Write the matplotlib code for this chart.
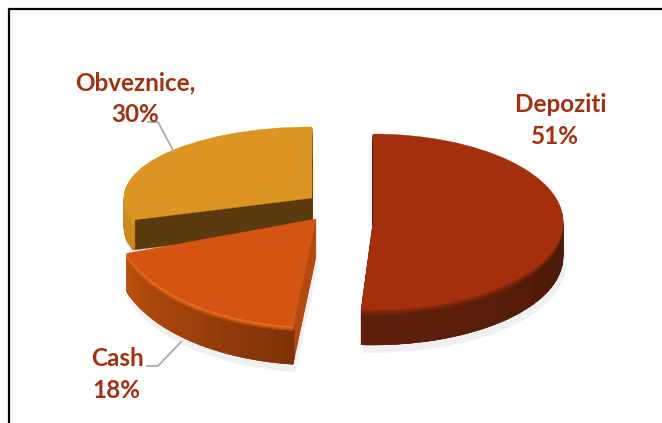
import matplotlib
matplotlib.use('Agg')
import matplotlib.pyplot as plt
import numpy as np

W, H = 662, 423
labels = ['Depoziti', 'Cash', 'Obveznice']
shares = [51, 18, 30]
label_lines = ['Depoziti', '51%', 'Cash', '18%', 'Obveznice,', '30%']

# top face colour, wall colour at start/end of the slice, colour of the cut side
face_colors = ['#a42f0c', '#d45511', '#dc9522']
wall_start = ['#3c1204', '#7f3208', '#c98a1e']
wall_end = ['#5e200b', '#bb4f0e', '#eda321']
cut_colors = ['#3c1204', '#b34a10', '#5b3b0d']
rim_colors = ['#8a2a0c', '#f0701f', '#dc9522']


def mix(a, b, t):
    a, b = np.array(matplotlib.colors.to_rgb(a)), np.array(matplotlib.colors.to_rgb(b))
    return tuple(a + (b - a) * t)


def pie_slice(ax, parts, start, center, radius, colors, width=None):
    # one slice only, the rest of the circle stays invisible
    rest = 100 - sum(parts)
    props = {'linewidth': 0.3}
    if width:
        props['width'] = width
    wedges, _ = ax.pie(list(parts) + [rest], startangle=start, counterclock=False, center=center,
                       radius=radius, colors=list(colors) + ['none'], wedgeprops=props)
    for w, c in zip(wedges, colors):
        w.set_edgecolor(c)
    wedges[-1].set_edgecolor('none')


def draw_slice(i, first, turn, cx, cy, rx, squash, depth, ring):
    ax = fig.add_axes([0, 0, 1, 1])
    ax.patch.set_alpha(0)
    value = shares[i]
    start = 90 - 3.6 * first + turn
    to_y = lambda py: (H - py) / squash
    # soft shadow
    for d in [depth + 7, depth + 5, depth + 3]:
        pie_slice(ax, [value], start, (cx + 2, to_y(cy + d)), rx + 1, ['#f0f0f0'])
    # cut side
    for d in range(depth, 0, -1):
        pie_slice(ax, [value], start, (cx, to_y(cy + d)), rx, [cut_colors[i]])
    # outer wall, ring of thin segments for the gradient
    n = 24
    for d in range(depth, 0, -1):
        seg = [value / n] * n
        cols = [mix(wall_start[i], wall_end[i], k / (n - 1)) for k in range(n)]
        if d <= 5:
            cols = [mix(rim_colors[i], c, (d - 1) / 5) for c in cols]
        pie_slice(ax, seg, start, (cx, to_y(cy + d)), rx, cols, width=ring)
    pie_slice(ax, [value], start, (cx, to_y(cy)), rx, [face_colors[i]])
    ax.set_aspect('auto')
    ax.set_xlim(0, W)
    ax.set_ylim(0, H / squash)
    ax.axis('off')


plt.rcParams['font.family'] = ['Lato', 'DejaVu Sans']
fig = plt.figure(figsize=(W / 100, H / 100), dpi=100, facecolor='white')

# back to front
draw_slice(2, 70, 0, 312, 198, 188, 0.378, 30, 2)
draw_slice(1, 51, -3, 316, 219, 200, 0.54, 38, 10)
draw_slice(0, 0, 0, 373, 222, 190, 0.463, 35, 10)

# overlay in pixel coordinates for frame, leaders and labels
top = fig.add_axes([0, 0, 1, 1])
top.patch.set_alpha(0)
top.set_xlim(0, W)
top.set_ylim(H, 0)
top.axis('off')
top.plot([9, 9, W + 5], [H + 5, 9, 9], color='black', lw=1.6, solid_joinstyle='miter')
top.plot([148, 158, 174], [122, 122, 152], color='#a6a6a6', lw=1.2)
top.plot([147, 158, 181], [366, 366, 342], color='#a6a6a6', lw=1.2)

label_pos = [(561, 104), (555, 136), (117, 358), (116, 390), (135, 83), (135, 114)]
for txt, (x, y) in zip(label_lines, label_pos):
    top.text(x, y, txt, color='#a5300f', fontsize=17.5, fontweight='bold', ha='center', va='center')

fig.savefig('out.png', dpi=100)
